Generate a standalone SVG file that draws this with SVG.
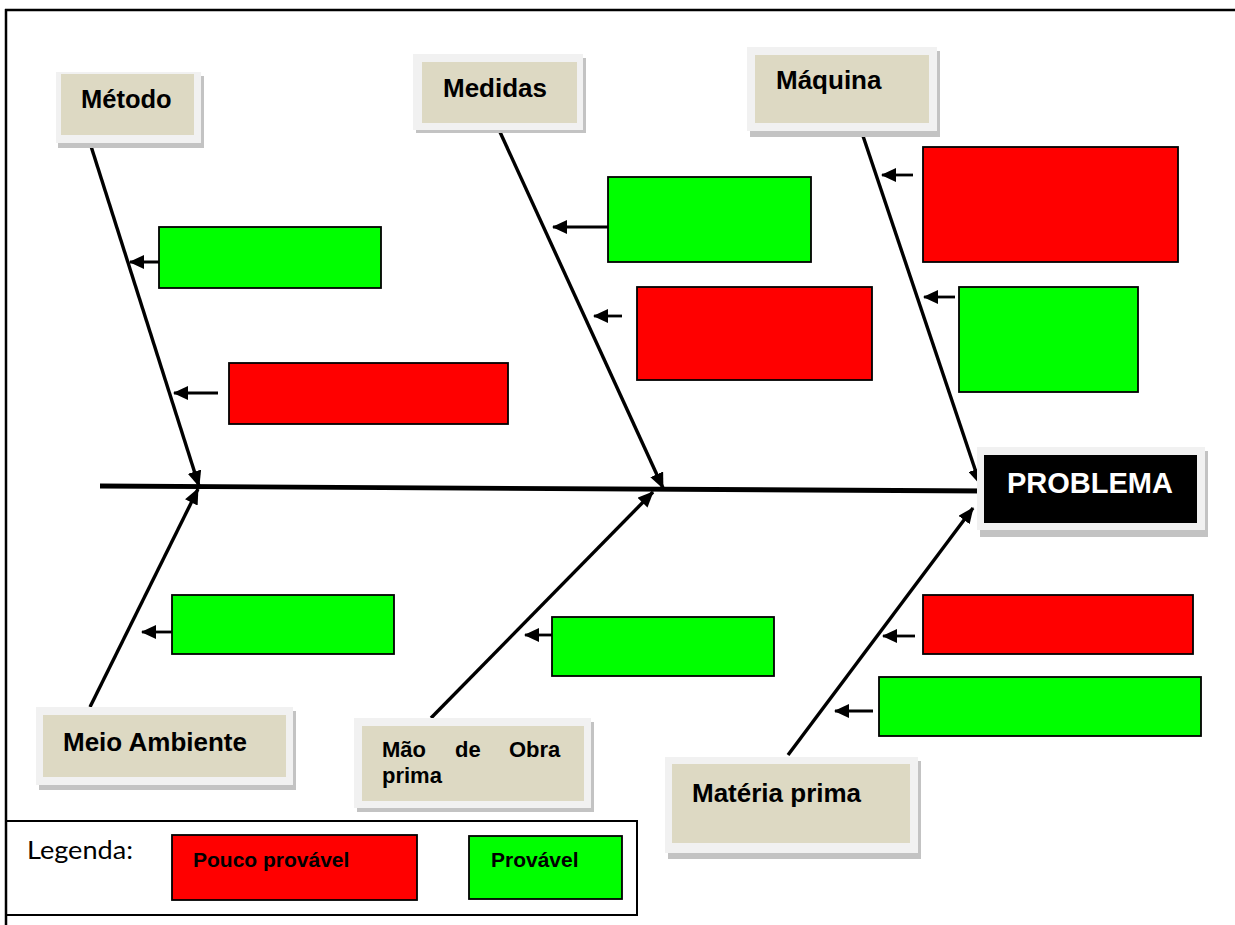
<svg xmlns="http://www.w3.org/2000/svg" width="1235" height="925" viewBox="0 0 1235 925">
  <defs>
    <marker id="bigHead" markerUnits="userSpaceOnUse" markerWidth="16" markerHeight="14" refX="15" refY="7" orient="auto">
      <path d="M0,0 L16,7 L0,14 z" fill="#000"/>
    </marker>
    <marker id="smallHead" markerUnits="userSpaceOnUse" markerWidth="15" markerHeight="14" refX="14" refY="7" orient="auto">
      <path d="M0,0 L15,7 L0,14 z" fill="#000"/>
    </marker>
    <style>
      .frame { fill: none; stroke: #000; stroke-width: 2.5; }
      .bone { stroke: #000; stroke-width: 3.4; fill: none; marker-end: url(#bigHead); }
      .small { stroke: #000; stroke-width: 2.8; fill: none; marker-end: url(#smallHead); }
      .red { fill: #ff0000; stroke: #000; stroke-width: 1.8; }
      .green { fill: #00ff00; stroke: #000; stroke-width: 1.8; }
      .shadow { fill: #c3c3c3; }
      .light { fill: #f1f1f1; }
      .tan { fill: #ddd9c3; }
      .lbl { font-family: "Liberation Sans", Arial, sans-serif; font-weight: bold; fill: #000; }
      .leg { font-family: Lato, "Noto Sans", sans-serif; fill: #000; }
    </style>
  </defs>

  <rect width="1235" height="925" fill="#fff"/>

  <!-- frame -->
  <g id="frame">
    <line x1="5" y1="10" x2="1235" y2="10" class="frame"/>
    <line x1="6" y1="9" x2="6" y2="925" class="frame"/>
  </g>

  <!-- connectors -->
  <g id="connectors">
    <line x1="100" y1="486" x2="986" y2="491" stroke="#000" stroke-width="4.8"/>
    <line x1="90" y1="143" x2="199" y2="486" class="bone"/>
    <line x1="500" y1="132" x2="663" y2="488" class="bone"/>
    <line x1="862" y1="133" x2="980" y2="484" class="bone"/>
    <line x1="90" y1="707" x2="198" y2="489" class="bone"/>
    <line x1="431" y1="718" x2="653" y2="492" class="bone"/>
    <line x1="788" y1="755" x2="973" y2="508" class="bone"/>

    <line x1="174" y1="262" x2="130" y2="262" class="small"/>
    <line x1="218" y1="393" x2="174" y2="393" class="small"/>
    <line x1="608" y1="227" x2="553" y2="227" class="small"/>
    <line x1="622" y1="316" x2="594" y2="316" class="small"/>
    <line x1="913" y1="175" x2="882" y2="175" class="small"/>
    <line x1="955" y1="297" x2="924" y2="297" class="small"/>
    <line x1="172" y1="632" x2="142" y2="632" class="small"/>
    <line x1="552" y1="635" x2="525" y2="635" class="small"/>
    <line x1="915" y1="636" x2="883" y2="636" class="small"/>
    <line x1="873" y1="711" x2="835" y2="711" class="small"/>
  </g>

  <!-- cause boxes -->
  <g id="metodo-green"><rect x="159" y="227" width="222" height="61" class="green"/></g>
  <g id="metodo-red"><rect x="229" y="363" width="279" height="61" class="red"/></g>
  <g id="medidas-green"><rect x="608" y="177" width="203" height="85" class="green"/></g>
  <g id="medidas-red"><rect x="637" y="287" width="235" height="93" class="red"/></g>
  <g id="maquina-red"><rect x="923" y="147" width="255" height="115" class="red"/></g>
  <g id="maquina-green"><rect x="959" y="287" width="179" height="105" class="green"/></g>
  <g id="meio-green"><rect x="172" y="595" width="222" height="59" class="green"/></g>
  <g id="mao-green"><rect x="552" y="617" width="222" height="59" class="green"/></g>
  <g id="materia-red"><rect x="923" y="595" width="270" height="59" class="red"/></g>
  <g id="materia-green"><rect x="879" y="677" width="322" height="59" class="green"/></g>

  <!-- category labels -->
  <g id="metodo">
    <rect x="58" y="76" width="146" height="72" class="shadow"/>
    <rect x="56" y="72" width="145" height="71" class="light"/>
    <rect x="61" y="74" width="133" height="61" class="tan"/>
    <text x="81" y="108" class="lbl" font-size="25.5">Método</text>
  </g>
  <g id="medidas">
    <rect x="416" y="58" width="170" height="75" class="shadow"/>
    <rect x="413" y="54" width="170" height="76" class="light"/>
    <rect x="422" y="62" width="155" height="61" class="tan"/>
    <text x="443" y="97" class="lbl" font-size="26">Medidas</text>
  </g>
  <g id="maquina">
    <rect x="750" y="51" width="190" height="86" class="shadow"/>
    <rect x="747" y="47" width="190" height="84" class="light"/>
    <rect x="755" y="55" width="174" height="68" class="tan"/>
    <text x="776" y="89" class="lbl" font-size="26">Máquina</text>
  </g>
  <g id="problema">
    <rect x="980" y="451" width="228" height="86" class="shadow"/>
    <rect x="977" y="447" width="228" height="83" class="light"/>
    <rect x="984" y="455" width="213" height="68" fill="#000"/>
    <text x="1090" y="493" class="lbl" font-size="29" style="fill:#fff" text-anchor="middle">PROBLEMA</text>
  </g>
  <g id="meio-ambiente">
    <rect x="39" y="711" width="257" height="79" class="shadow"/>
    <rect x="36" y="707" width="257" height="78" class="light"/>
    <rect x="43" y="715" width="243" height="62" class="tan"/>
    <text x="63" y="751" class="lbl" font-size="26">Meio Ambiente</text>
  </g>
  <g id="mao-de-obra">
    <rect x="357" y="722" width="237" height="90" class="shadow"/>
    <rect x="354" y="718" width="237" height="90" class="light"/>
    <rect x="362" y="726" width="222" height="75" class="tan"/>
    <text class="lbl" font-size="22"><tspan x="382" y="757">Mão</tspan><tspan x="455" y="757">de</tspan><tspan x="509" y="757">Obra</tspan><tspan x="382" y="783">prima</tspan></text>
  </g>
  <g id="materia-prima">
    <rect x="668" y="761" width="253" height="98" class="shadow"/>
    <rect x="665" y="757" width="253" height="96" class="light"/>
    <rect x="672" y="764" width="238" height="79" class="tan"/>
    <text x="692" y="802" class="lbl" font-size="26">Matéria prima</text>
  </g>

  <!-- legend -->
  <g id="legend">
    <rect x="6" y="821" width="631" height="94" fill="none" stroke="#000" stroke-width="2"/>
    <text x="27" y="859" class="leg" font-size="25" textLength="106" lengthAdjust="spacingAndGlyphs">Legenda:</text>
    <rect x="172" y="835" width="245" height="65" class="red"/>
    <text x="193" y="867" class="lbl" font-size="21">Pouco provável</text>
    <rect x="469" y="836" width="153" height="63" class="green"/>
    <text x="491" y="867" class="lbl" font-size="21">Provável</text>
  </g>
</svg>
